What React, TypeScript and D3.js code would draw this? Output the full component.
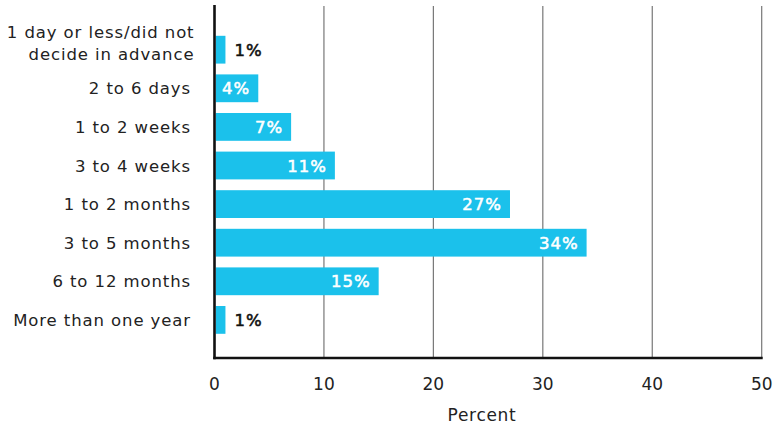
import React from "react";
import * as d3 from "d3";

const categories: string[][] = [
  ["1 day or less/did not", "decide in advance"],
  ["2 to 6 days"],
  ["1 to 2 weeks"],
  ["3 to 4 weeks"],
  ["1 to 2 months"],
  ["3 to 5 months"],
  ["6 to 12 months"],
  ["More than one year"],
];
const values: number[] = [1, 4, 7, 11, 27, 34, 15, 1];
const xTicks: number[] = [0, 10, 20, 30, 40, 50];
const xTitle = "Percent";

const W = 777;
const H = 426;
const FONT = "'DejaVu Sans', sans-serif";
const BAR = "#1bc1eb";

export default function App() {
  const x = d3.scaleLinear().domain([0, 50]).range([214.5, 761.7]);
  const keys = categories.map((c) => c.join(" "));
  const y = d3
    .scaleBand<string>()
    .domain(keys)
    .range([30.4, 339.2])
    .paddingInner(0.28)
    .paddingOuter(0.14);
  const top = 6;
  const axisY = 358;
  const LS = 0.9;

  return (
    <svg
      width={W}
      height={H}
      style={{ position: "absolute", left: 0, top: 0, background: "#fff" }}
      fontFamily={FONT}
    >
      {xTicks.slice(1).map((t) => (
        <line
          key={"g" + t}
          x1={x(t)}
          x2={x(t)}
          y1={top}
          y2={axisY}
          stroke="#777"
          strokeWidth={1.2}
        />
      ))}
      {values.map((v, i) => {
        const k = keys[i];
        const y0 = y(k)!;
        const bw = y.bandwidth();
        const cy = y0 + bw / 2;
        const inside = v >= 3;
        const col = inside ? "#fff" : "#111";
        return (
          <g key={k}>
            <rect
              x={x(0) + 1.2}
              y={y0}
              width={x(v) - x(0) - 1.2}
              height={bw}
              fill={BAR}
            />
            <text
              x={inside ? x(v) - 8 : x(v) + 9}
              y={cy + 6}
              textAnchor={inside ? "end" : "start"}
              fontSize={16.5}
              fill={col}
              stroke={col}
              strokeWidth={0.55}
              letterSpacing={1}
            >
              {v}%
            </text>
            {categories[i].length === 1 ? (
              <text
                x={191}
                y={cy + 6}
                textAnchor="end"
                fontSize={16.5}
                fill="#222"
                letterSpacing={LS}
              >
                {categories[i][0]}
              </text>
            ) : (
              <text textAnchor="end" fontSize={16.5} fill="#222" letterSpacing={LS}>
                <tspan x={194.5} y={cy - 11.5}>
                  {categories[i][0]}
                </tspan>
                <tspan x={194.5} y={cy + 10.5}>
                  {categories[i][1]}
                </tspan>
              </text>
            )}
          </g>
        );
      })}
      <line x1={x(0)} x2={x(0)} y1={top - 1} y2={axisY + 1.3} stroke="#111" strokeWidth={2.6} />
      <line x1={x(0) - 1.3} x2={x(50) + 1} y1={axisY} y2={axisY} stroke="#111" strokeWidth={2.6} />
      {xTicks.map((t) => (
        <text
          key={"t" + t}
          x={x(t)}
          y={390}
          textAnchor="middle"
          fontSize={17}
          fill="#222"
        >
          {t}
        </text>
      ))}
      <text
        x={482}
        y={420.5}
        textAnchor="middle"
        fontSize={17}
        fill="#222"
        letterSpacing={0.7}
      >
        {xTitle}
      </text>
    </svg>
  );
}
